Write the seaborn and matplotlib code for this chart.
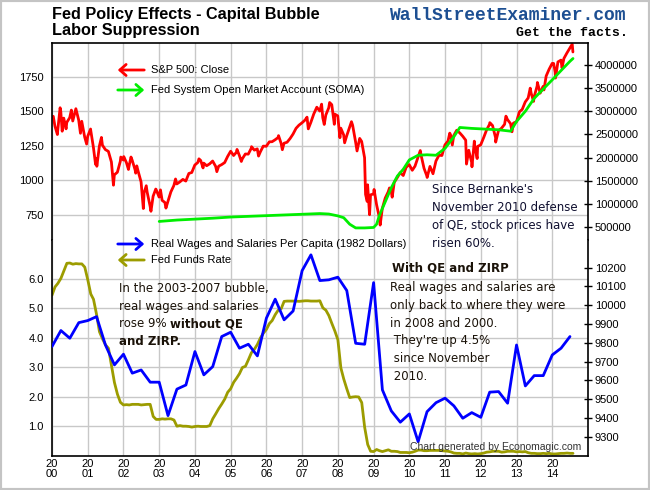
#!/usr/bin/env python3

"""
Fed policy effects chart: S&P 500 vs Fed SOMA holdings (top panel),
real wages per capita vs Fed funds rate (bottom panel).
"""

import pandas as pd
import matplotlib
matplotlib.use('Agg')
import matplotlib.pyplot as plt
import seaborn as sns
from matplotlib.patches import Rectangle, FancyArrowPatch

# S&P 500 month-end closes, Jan 2000 .. Jul 2014
spx_close = [
    1394, 1366, 1499, 1452, 1421, 1455, 1431, 1518, 1437, 1429, 1315, 1320,
    1366, 1240, 1160, 1249, 1256, 1224, 1211, 1134, 1041, 1060, 1139, 1148,
    1130, 1107, 1147, 1077, 1067, 990, 912, 916, 815, 886, 936, 880,
    856, 841, 848, 917, 964, 975, 990, 1008, 996, 1051, 1058, 1112,
    1131, 1145, 1126, 1107, 1121, 1141, 1102, 1104, 1115, 1130, 1174, 1212,
    1181, 1204, 1181, 1157, 1192, 1191, 1234, 1220, 1229, 1207, 1249, 1248,
    1280, 1281, 1295, 1311, 1270, 1270, 1277, 1304, 1336, 1378, 1401, 1418,
    1438, 1407, 1421, 1482, 1531, 1503, 1455, 1474, 1527, 1549, 1481, 1468,
    1379, 1331, 1323, 1386, 1400, 1280, 1267, 1283, 1165, 969, 896, 903,
    826, 735, 798, 873, 919, 919, 987, 1021, 1057, 1036, 1096, 1115,
    1074, 1104, 1169, 1187, 1089, 1031, 1102, 1049, 1141, 1183, 1181, 1258,
    1286, 1327, 1326, 1364, 1345, 1321, 1292, 1219, 1131, 1253, 1247, 1258,
    1312, 1366, 1408, 1398, 1310, 1362, 1379, 1407, 1441, 1412, 1416, 1426,
    1498, 1515, 1569, 1598, 1631, 1606, 1686, 1633, 1682, 1757, 1806, 1848,
    1783, 1859, 1872, 1884, 1924, 1960, 1931,
]
# intra-month highs/lows that show on the chart
spx_extreme_dates = [
    '2000-01-14', '2000-02-25', '2000-03-24', '2000-04-14', '2000-05-24',
    '2000-07-17', '2000-09-01', '2000-10-18', '2000-12-20',
    '2001-01-30', '2001-03-22', '2001-04-04', '2001-05-21', '2001-09-21',
    '2001-12-05',
    '2002-01-04', '2002-02-21', '2002-03-19', '2002-05-06', '2002-05-17',
    '2002-07-23', '2002-08-22', '2002-10-09', '2002-11-27',
    '2003-01-14', '2003-03-11', '2003-06-17',
    '2004-02-11', '2004-03-24', '2004-08-12',
    '2005-03-07', '2005-04-20', '2005-08-02', '2005-10-13',
    '2006-05-05', '2006-06-13',
    '2007-02-20', '2007-03-05', '2007-07-19', '2007-08-15', '2007-10-09',
    '2007-11-26',
    '2008-01-22', '2008-03-10', '2008-05-19', '2008-07-15', '2008-08-11',
    '2008-10-10', '2008-10-27', '2008-11-20',
    '2009-01-06', '2009-03-09', '2009-06-12', '2009-07-10',
    '2010-04-23', '2010-07-02',
    '2011-02-18', '2011-03-16', '2011-08-08', '2011-10-03', '2011-10-27',
    '2011-11-25',
    '2012-04-02', '2012-06-01', '2012-09-14', '2012-11-15',
    '2013-05-21', '2013-06-24', '2013-08-02', '2013-10-08',
    '2014-01-15', '2014-02-03', '2014-04-11', '2014-07-24',
]
spx_extreme_vals = [
    1465, 1333, 1527, 1357, 1374,
    1510, 1520, 1342, 1264,
    1373, 1117, 1103, 1312, 966,
    1170,
    1173, 1080, 1170, 1053, 1106,
    797, 962, 777, 938,
    932, 800, 1011,
    1157, 1091, 1064,
    1225, 1138, 1245, 1177,
    1325, 1223,
    1459, 1374, 1553, 1406, 1565,
    1407,
    1310, 1273, 1426, 1214, 1305,
    899, 848, 752,
    935, 677, 946, 879,
    1217, 1022,
    1343, 1257, 1119, 1099, 1285,
    1159,
    1419, 1278, 1466, 1353,
    1669, 1573, 1710, 1656,
    1848, 1742, 1816, 1988,
]

# Fed System Open Market Account holdings ($ millions)
soma_dates = ['2003-01', '2003-07', '2004-01', '2004-07', '2005-01', '2005-07',
              '2006-01', '2006-07', '2007-01', '2007-07', '2007-10', '2008-01',
              '2008-03', '2008-05', '2008-07', '2008-10', '2009-01', '2009-02',
              '2009-03', '2009-05', '2009-07', '2009-09', '2009-11', '2010-01',
              '2010-04', '2010-07', '2010-10', '2011-01', '2011-04', '2011-06',
              '2011-10', '2012-01', '2012-07', '2012-11', '2013-01', '2013-04',
              '2013-07', '2013-10', '2014-01', '2014-04', '2014-07', '2014-08']
soma_vals = [620000, 650000, 670000, 690000, 715000, 730000,
             745000, 760000, 775000, 790000, 780000, 740000,
             700000, 560000, 480000, 480000, 490000, 560000,
             750000, 1050000, 1350000, 1600000, 1750000, 1950000,
             2050000, 2060000, 2050000, 2200000, 2450000, 2650000,
             2630000, 2620000, 2600000, 2570000, 2780000, 3000000,
             3280000, 3480000, 3680000, 3880000, 4080000, 4140000]

# Real wages and salaries per capita (1982 dollars), quarterly from 2000 Q1
wages = [9780, 9865, 9824, 9907, 9918, 9939, 9788, 9682, 9739, 9638,
         9655, 9590, 9590, 9412, 9553, 9575, 9753, 9629, 9673, 9833,
         9856, 9771, 9792, 9730, 9931, 10032, 9922, 9969, 10184, 10268,
         10131, 10135, 10149, 10078, 9797, 9792, 10120, 9549, 9437, 9377,
         9421, 9273, 9433, 9481, 9505, 9464, 9398, 9428, 9403, 9537,
         9540, 9478, 9788, 9570, 9625, 9625, 9735, 9771, 9833]

# Effective Fed funds rate, monthly from Jan 2000
ffr = [
    5.45, 5.73, 5.85, 6.02, 6.27, 6.53, 6.54, 6.50, 6.52, 6.51, 6.51, 6.40,
    5.98, 5.49, 5.31, 4.80, 4.21, 3.97, 3.77, 3.65, 3.07, 2.49, 2.09, 1.82,
    1.73, 1.74, 1.73, 1.75, 1.75, 1.75, 1.73, 1.74, 1.75, 1.75, 1.34, 1.24,
    1.24, 1.26, 1.25, 1.26, 1.26, 1.22, 1.01, 1.03, 1.01, 1.01, 1.00, 0.98,
    1.00, 1.01, 1.00, 1.00, 1.00, 1.03, 1.26, 1.43, 1.61, 1.76, 1.93, 2.16,
    2.28, 2.50, 2.63, 2.79, 3.00, 3.04, 3.26, 3.50, 3.62, 3.78, 4.00, 4.16,
    4.29, 4.49, 4.59, 4.79, 4.94, 4.99, 5.24, 5.25, 5.25, 5.25, 5.25, 5.24,
    5.25, 5.26, 5.26, 5.25, 5.25, 5.25, 5.26, 5.02, 4.94, 4.76, 4.49, 4.24,
    3.94, 2.98, 2.61, 2.28, 1.98, 2.00, 2.01, 2.00, 1.81, 0.97, 0.39, 0.16,
    0.15, 0.22, 0.18, 0.15, 0.18, 0.21, 0.16, 0.16, 0.15, 0.12, 0.12, 0.12,
    0.11, 0.13, 0.16, 0.20, 0.20, 0.18, 0.18, 0.19, 0.19, 0.19, 0.19, 0.18,
    0.17, 0.16, 0.14, 0.10, 0.09, 0.09, 0.07, 0.10, 0.08, 0.07, 0.08, 0.07,
    0.08, 0.10, 0.13, 0.14, 0.16, 0.16, 0.16, 0.13, 0.14, 0.16, 0.16, 0.16,
    0.14, 0.15, 0.14, 0.15, 0.11, 0.09, 0.09, 0.08, 0.08, 0.09, 0.08, 0.09,
    0.07, 0.07, 0.08, 0.09, 0.09, 0.10, 0.09, 0.09,
]

years = list(range(2000, 2015))
spx_ticks = [750, 1000, 1250, 1500, 1750]
soma_ticks = [500000, 1000000, 1500000, 2000000, 2500000, 3000000, 3500000, 4000000]
ffr_ticks = [1.0, 2.0, 3.0, 4.0, 5.0, 6.0]
wage_ticks = [9300, 9400, 9500, 9600, 9700, 9800, 9900, 10000, 10100, 10200]


def decimal_year(dates):
    d = pd.to_datetime(pd.Series(dates))
    return d.dt.year + (d.dt.dayofyear - 1) / 365.25


def build_frames():
    spx = pd.DataFrame({
        'date': list(pd.date_range('2000-01-31', periods=len(spx_close), freq='ME'))
                + list(pd.to_datetime(spx_extreme_dates)),
        'value': spx_close + spx_extreme_vals,
    })
    spx['t'] = decimal_year(spx['date']).values
    spx = spx.drop_duplicates('t').sort_values('t')
    soma = pd.DataFrame({'t': decimal_year(soma_dates).values, 'value': soma_vals})
    wg = pd.DataFrame({'t': decimal_year(pd.date_range('2000-01-01', periods=len(wages), freq='QS')).values,
                       'value': wages})
    ff = pd.DataFrame({'t': decimal_year(pd.date_range('2000-01-01', periods=len(ffr), freq='MS')).values,
                       'value': ffr})
    return spx, soma, wg, ff


def main():
    sns.set_theme(style='white')
    plt.rcParams['font.family'] = ['Liberation Sans', 'DejaVu Sans']

    spx, soma, wg, ff = build_frames()

    W, H = 650, 490
    fig = plt.figure(figsize=(W / 100, H / 100), dpi=100)
    fig.patch.set_facecolor('white')

    def fx(x):
        return x / W

    def fy(y):
        return 1 - y / H

    left, right, top, mid, bottom = 52, 588, 43, 240, 456
    ax_top = fig.add_axes([fx(left), fy(mid), fx(right) - fx(left), fy(top) - fy(mid)])
    ax_bot = fig.add_axes([fx(left), fy(bottom), fx(right) - fx(left), fy(mid) - fy(bottom)])
    ax_top_r = ax_top.twinx()
    ax_bot_r = ax_bot.twinx()

    lw = 2.0
    sns.lineplot(data=spx, x='t', y='value', ax=ax_top, color='#ff0000', linewidth=lw)
    sns.lineplot(data=soma, x='t', y='value', ax=ax_top_r, color='#00ee00', linewidth=lw)
    sns.lineplot(data=ff, x='t', y='value', ax=ax_bot, color='#9c9c00', linewidth=lw)
    sns.lineplot(data=wg, x='t', y='value', ax=ax_bot_r, color='#0000ff', linewidth=lw)

    for ax in (ax_top, ax_bot, ax_top_r, ax_bot_r):
        ax.set_xlim(2000, 2015)
        ax.set_xlabel('')
        ax.set_ylabel('')
        ax.set_xticks(years)

    ax_top.set_ylim(569, 1996)
    ax_top_r.set_ylim(219000, 4475000)
    ax_bot.set_ylim(0, 7.32)
    ax_bot_r.set_ylim(9197, 10347)

    grid_kw = dict(color='#c8c8c8', linewidth=1.0)
    for ax in (ax_top, ax_bot):
        ax.grid(True, axis='both', **grid_kw)
        ax.set_axisbelow(True)

    ax_top.set_yticks(spx_ticks)
    ax_top.set_yticklabels([str(v) for v in spx_ticks])
    ax_bot.set_yticks(ffr_ticks)
    ax_bot.set_yticklabels([f'{v:.1f}' for v in ffr_ticks])
    ax_top_r.set_yticks(soma_ticks)
    ax_top_r.set_yticklabels([str(v) for v in soma_ticks])
    ax_bot_r.set_yticks(wage_ticks)
    ax_bot_r.set_yticklabels([str(v) for v in wage_ticks])

    ax_top.set_xticklabels([])
    ax_bot.set_xticklabels([f'20\n{y % 100:02d}' for y in years], linespacing=1.0)

    for ax in (ax_top, ax_bot):
        ax.tick_params(axis='y', length=0, pad=6, labelsize=8, colors='black')
        ax.tick_params(axis='x', length=0, pad=2, labelsize=8, colors='black')
    for ax in (ax_top_r, ax_bot_r):
        ax.tick_params(axis='y', direction='inout', length=6, width=1, pad=2,
                       labelsize=8, colors='black')
        ax.tick_params(axis='x', length=0)
        ax.grid(False)
        for s in ax.spines.values():
            s.set_visible(False)

    for name, s in ax_top.spines.items():
        s.set_visible(name != 'bottom')
        s.set_color('black')
        s.set_linewidth(1.2)
    for name, s in ax_bot.spines.items():
        s.set_visible(name != 'top')
        s.set_color('black')
        s.set_linewidth(1.2)

    # hand-drawn style legends: arrow pointing at the axis the series uses
    def legend_arrow(y, color, pointing_left, label):
        x0, x1 = 115, 147
        start, end = ((x1, y), (x0, y)) if pointing_left else ((x0, y), (x1, y))
        fig.add_artist(FancyArrowPatch(
            (fx(start[0]), fy(start[1])), (fx(end[0]), fy(end[1])),
            transform=fig.transFigure, arrowstyle='->,head_length=4.5,head_width=4',
            color=color, linewidth=2, mutation_scale=1))
        fig.text(fx(151), fy(y), label, fontsize=8, va='center', ha='left', color='black')

    legend_arrow(70, '#ff0000', True, 'S&P 500: Close')
    legend_arrow(90, '#00ee00', False, 'Fed System Open Market Account (SOMA)')
    legend_arrow(244, '#0000ff', False, 'Real Wages and Salaries Per Capita (1982 Dollars)')
    legend_arrow(260, '#9c9c00', True, 'Fed Funds Rate')

    # titles
    title_kw = dict(fontsize=11.7, fontweight='bold', ha='left', va='baseline', color='black')
    fig.text(fx(52), fy(19.5), 'Fed Policy Effects - Capital Bubble', **title_kw)
    fig.text(fx(52), fy(35.5), 'Labor Suppression', **title_kw)
    fig.text(fx(626), fy(19.5), 'WallStreetExaminer.com', fontsize=13, fontweight='bold',
             family='Liberation Mono', color='#1d4f92', ha='right', va='baseline')
    fig.text(fx(628), fy(36.5), 'Get the facts.', fontsize=9.5, fontweight='bold',
             family='Liberation Mono', color='black', ha='right', va='baseline')

    # commentary
    note_kw = dict(fontsize=8.5, family='DejaVu Sans', ha='left', va='baseline')
    step = 17.8
    for i, line in enumerate(["Since Bernanke's", 'November 2010 defense',
                              'of QE, stock prices have', 'risen 60%.']):
        fig.text(fx(432), fy(193.3 + i * step), line, color='#101030', **note_kw)

    for i, line in enumerate(['In the 2003-2007 bubble,', 'real wages and salaries']):
        fig.text(fx(119), fy(291.7 + i * step), line, color='#1a1208', **note_kw)
    t = fig.text(fx(119), fy(291.7 + 2 * step), 'rose 9% ', color='#1a1208', **note_kw)
    plt.annotate('without QE', xy=(1, 0), xycoords=t, ha='left', va='bottom',
                 fontsize=8.5, family='DejaVu Sans', fontweight='bold', color='#1a1208')
    fig.text(fx(119), fy(291.7 + 3 * step), 'and ZIRP.', fontweight='bold',
             color='#1a1208', **note_kw)

    fig.text(fx(392), fy(271.7), 'With QE and ZIRP', fontweight='bold',
             color='#1a1208', **note_kw)
    for i, line in enumerate(['Real wages and salaries are', 'only back to where they were',
                              'in 2008 and 2000.', ' They\'re up 4.5%',
                              ' since November', ' 2010.']):
        fig.text(fx(390), fy(291 + i * step), line, color='#1a1208', **note_kw)

    fig.text(fx(410), fy(450), 'Chart generated by Economagic.com', fontsize=7.5,
             color='#333333', ha='left', va='baseline')

    # light grey border round the image
    fig.add_artist(Rectangle((0, 0), 1, 1, transform=fig.transFigure, fill=False,
                             edgecolor='#c4c4c4', linewidth=3))

    fig.savefig('out.png', dpi=100)


if __name__ == '__main__':
    main()
